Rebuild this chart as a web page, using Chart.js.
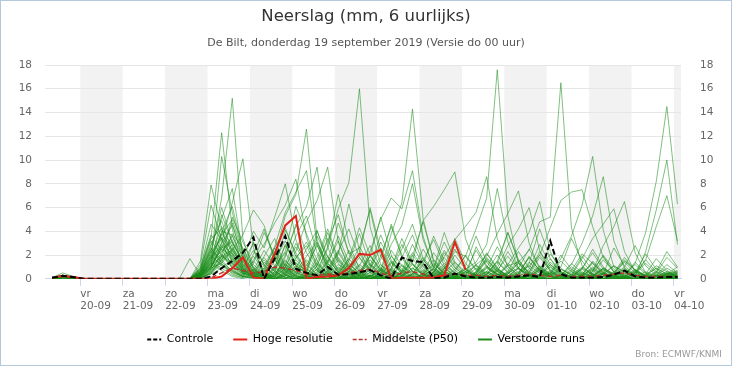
<!DOCTYPE html>
<html lang="nl">
<head>
<meta charset="UTF-8">
<title>Neerslag De Bilt</title>
<style>
  body { margin: 0; background: #fff; }
  #wrap { width: 732px; height: 366px; box-sizing: border-box; border: 1px solid #b4c8dc; }
  canvas { display: block; }
</style>
<script src="https://cdn.jsdelivr.net/npm/chart.js@4.4.0/dist/chart.umd.min.js"></script>
</head>
<body>
<div id="wrap"><canvas id="neerslag" width="730" height="364"></canvas></div>
<script>
// tijden: eerste waarde 19-09 08:00 lokale tijd, daarna elke 6 uur (uren sinds 19-09 00:00)
const eersteUur = 8;
const stapUren = 6;

const dagNamen = ['vr', 'za', 'zo', 'ma', 'di', 'wo', 'do', 'vr', 'za', 'zo', 'ma', 'di', 'wo', 'do', 'vr'];
const dagDatums = ['20-09', '21-09', '22-09', '23-09', '24-09', '25-09', '26-09', '27-09',
                   '28-09', '29-09', '30-09', '01-10', '02-10', '03-10', '04-10'];

const controle = [0.1,0.25,0.15,0,0,0,0,0,0,0,0,0,0,0,0,0.2,0.9,1.5,2.2,3.5,0,1.7,3.6,0.85,0.5,0.3,1.0,0.35,0.4,0.55,0.75,0.3,0,1.8,1.5,1.4,0.05,0.1,0.45,0.2,0.1,0.1,0.15,0.1,0.2,0.3,0.15,3.2,0.4,0.1,0.1,0.1,0.15,0.35,0.7,0.2,0.1,0.1,0.15,0.15];
const hogeResolutie = [0.1,0.25,0.15,0,0,0,0,0,0,0,0,0,0,0,0,0,0.2,0.9,1.8,0.1,0,2.1,4.5,5.3,0,0.15,0.2,0.3,0.9,2.1,2.0,2.45,0,0.1,0.1,0.1,0.1,0.3,3.1,0.8,
  null,null,null,null,null,null,null,null,null,null,null,null,null,null,null,null,null,null,null,null];
const middelste = [0.1,0.2,0.1,0,0,0,0,0,0,0,0,0,0,0,0,0.1,0.5,0.9,0.7,0.5,0.6,1.0,0.9,0.7,0.4,0.3,0.4,0.3,0.5,0.7,0.8,0.5,0.2,0.5,0.6,0.4,0.2,0.3,0.4,0.3,0.3,0.2,0.3,0.2,0.3,0.4,0.3,0.2,0.3,0.2,0.2,0.2,0.3,0.4,0.5,0.3,0.2,0.2,0.2,0.2];

// verstoorde runs (50 leden), elk 60 waarden
const verstoord = [
  [0,0.2,0.1,0,0,0,0,0,0,0,0,0,0,0,0.4,2.1,6.8,15.2,3.4,0.8,0.2,1.5,3.2,1.1,0.3,0,0.4,1.2,0.6,0.2,0,0.5,2.4,1.1,0.3,0,0,0.2,0.8,1.9,0.7,0.1,0,0,0.3,1.4,0.6,0.2,0,0.1,0.9,2.2,0.8,0.3,0,0,0.2,0.6,0.3,0.1],
  [0.1,0.3,0.1,0,0,0,0,0,0,0,0,0,0,0,0.8,3.5,12.3,4.2,1.0,2.4,0.5,0.1,1.8,4.6,2.2,0.7,0.1,0,0.3,1.1,2.8,0.9,0.2,0,0,0.4,1.6,0.7,0.1,0,0,0.3,1.2,3.9,1.4,0.2,0,0,0.1,0.6,0.2,0,0,0.4,1.5,0.8,0.2,0,0,0.1],
  [0,0.1,0,0,0,0,0,0,0,0,0,0,0,0,0.2,1.4,10.3,5.6,2.2,0.9,0,0.6,2.9,1.2,0.4,3.6,1.8,0.5,0,0,0.2,0.8,0.3,0,1.9,4.8,1.6,0.4,0.1,0,0,0,0.2,0.5,0.9,0.3,0,0,0,0.7,2.1,1.3,0.4,0,0,0.1,0.3,0.9,0.4,0.2],
  [0,0.2,0.2,0,0,0,0,0,0,0,0,0,0,0,0,0.9,3.1,6.4,10.1,2.6,0.3,0,0.5,1.7,3.1,1.2,0.4,0,0,0.2,0.5,1.9,4.4,1.8,0.6,0.1,0,0,0.3,0.8,0.2,0,0,0,0.4,1.1,0.5,0.1,0,0,0,0.2,0.7,0.3,0.1,0,0,0.5,1.8,0.9],
  [0.1,0.5,0.2,0,0,0,0,0,0,0,0,0,0,0,1.5,7.9,4.2,1.3,0.6,0.2,0,1.1,2.3,6.1,3.8,1.5,0.3,0,0.2,0.7,0.2,0,0,0.6,2.2,1.0,0.3,0,0,0.1,0.5,1.8,0.8,0.2,0,0,0.3,1.2,0.5,0.1,0,0,0.4,2.6,1.1,0.3,0,0,0.2,0.4],
  [0,0.1,0.1,0,0,0,0,0,0,0,0,0,0,0,0.3,2.8,5.1,7.6,2.0,0.4,1.9,3.4,1.0,0.2,0,0,0.5,2.1,6.3,2.4,0.6,0.1,0,0.3,0.9,0.4,0,0,0,0.2,2.7,1.1,0.3,0,0,0.1,0.6,1.7,0.6,0.2,0,0,0,0.3,0.5,0.2,0,0,0.1,0.3],
  [0,0.3,0.1,0,0,0,0,0,0,0,0,0,0,0,1.2,6.2,3.3,0.8,0.2,1.3,3.9,2.0,0.6,0.1,0,0.2,1.4,3.2,1.0,0.3,0,0,0.4,1.8,3.7,1.3,0.2,0,0,0,0.4,0.2,0,0,0.1,0.8,2.9,1.2,0.3,0,0,0.2,0.5,0.2,0,0,0.3,1.1,0.6,0.2],
  [0,0.2,0,0,0,0,0,0,0,0,0,0,0,0,0.6,2.4,6.0,3.1,1.4,3.0,1.2,0.2,0,0.9,2.5,4.1,1.3,0.2,0,0,0.3,0.1,0,0,0.4,1.5,3.3,1.1,0.2,0,0,0.6,2.0,0.8,0.2,0,0,0.3,1.0,3.4,1.5,0.4,0,0,0.1,0.2,0,0,0.4,0.7],
  [0.1,0.2,0.1,0,0,0,0,0,0,0,0,0,0,1.7,0.3,1.0,2.6,4.7,1.5,0.3,0,0.8,4.1,2.2,0.6,0.1,0,0.2,1.3,0.5,0,0,0.9,2.9,1.2,0.3,0,0,0.2,0.6,0.3,0.1,0,0,0,1.3,4.2,1.7,0.4,0,0,0.1,0.4,0.2,0,0,0,0.6,2.3,1.0],
  [0,0.2,0.1,0,0,0,0,0,0,0,0,0,0,0,0.2,1.7,3.8,2.5,0.9,0.5,0.2,1.8,5.3,7.1,12.6,3.3,0.8,0.1,0,0,0.2,0.9,0.4,0,0,0.3,1.2,0.5,0.1,0,0,0,0.7,1.9,0.8,0.2,0,0,0,0.3,0.9,0.4,0,0,0.2,0.6,0.3,0,0,0.1],
  [0,0.1,0.1,0,0,0,0,0,0,0,0,0,0,0,0.1,0.7,2.2,3.6,1.8,0.6,0.3,0.2,2.0,4.4,6.1,9.4,2.7,0.6,0.1,0,0,0.2,1.4,0.7,0.2,0,0,0.8,2.5,0.9,0.3,0,0.1,0.5,1.6,0.4,0,0,0,0,0.2,0.7,1.9,0.6,0.1,0,0,0,0.3,0.6],
  [0,0.2,0.1,0,0,0,0,0,0,0,0,0,0,0,0.5,1.9,4.4,2.7,0.8,0.2,0,0,0.7,2.3,4.8,6.6,9.4,3.1,0.9,0.2,0,0.3,0.8,0.3,0,0,0.5,2.2,0.9,0.3,0.1,0,0,0.2,0.4,1.8,0.7,0.2,0,0,0,0.4,0.2,0,0.3,1.4,0.5,0.1,0,0],
  [0,0.1,0,0,0,0,0,0,0,0,0,0,0,0,0.7,3.2,2.0,1.1,0.4,1.6,2.9,4.7,6.2,8.4,3.5,1.0,0.2,0,0.1,0.5,1.6,0.6,0.1,0,0,0.2,0.9,3.1,1.2,0.3,0,0,0,0.4,1.3,0.5,0.1,0,0.2,0.8,0.3,0,0,0,0.4,1.2,0.4,0,0,0],
  [0.1,0.3,0.1,0,0,0,0,0,0,0,0,0,0,0,0.3,1.2,5.4,3.0,1.6,4.0,2.6,5.2,8.0,3.3,0.9,0.2,0,0.4,1.5,3.8,1.2,0.3,0,0,0.2,0.7,0.3,0,0,1.1,3.6,1.4,0.4,0.1,0,0,0.2,0.6,0.2,0,0.3,1.5,0.6,0.1,0,0,0.2,0.4,0.1,0],
  [0,0.2,0.1,0,0,0,0,0,0,0,0,0,0,0,0.9,4.6,3.3,1.7,0.5,0.3,1.1,2.7,5.6,7.3,9.1,2.9,0.7,0.1,0,0.2,0.8,2.6,1.0,0.2,0,0,0.3,0.6,0.2,0,0.1,0.9,2.7,1.1,0.3,0,0,0.2,0.8,0.3,0,0,0,0.5,1.6,0.7,0.2,0,0.1,0.2],
  [0,0.1,0.1,0,0,0,0,0,0,0,0,0,0,0,0.2,0.9,2.9,2.1,0.7,0.2,0,0.4,1.6,0.6,0.1,0.8,2.5,5.9,8.1,16.0,4.4,1.2,0.3,0,0,0.2,0.5,0.2,0,0,0.4,1.6,0.7,0.1,0,0,0.3,1.0,0.4,0.1,0,0,0.2,0.6,0.3,0,0,0,0.2,0.4],
  [0,0.2,0,0,0,0,0,0,0,0,0,0,0,0,0.4,1.6,4.0,3.7,1.2,0.5,0.1,0,0.3,1.8,2.8,0.9,0.2,0.5,1.7,4.3,2.0,0.7,3.8,6.4,14.3,5.1,1.4,0.3,0,0,0.2,0.6,0.2,0,0,0.3,1.1,0.4,0,0,0,0.2,0.9,0.4,0.1,0,0,0,0.3,0.5],
  [0.1,0.2,0.1,0,0,0,0,0,0,0,0,0,0,0,0,0.6,1.8,5.2,3.1,1.2,0.4,0,0,0.6,1.9,3.1,1.1,0.3,0,0.4,2.3,5.0,6.8,5.9,9.1,3.6,0.8,0.2,0,0,0.6,2.1,0.9,0.2,0,0,0,0.3,0.8,0.4,0.1,0,0,0,0.2,0.8,0.3,0,0,0],
  [0,0.1,0.1,0,0,0,0,0,0,0,0,0,0,0,0.6,2.3,1.4,0.7,0.3,2.1,4.2,1.6,0.4,0,0,0.3,1.5,4.7,2.2,0.6,0.1,0.7,2.9,4.5,8.0,3.3,1.0,0.2,0,0.3,0.1,0,0,0.4,1.4,0.6,0.1,0,0,0.2,0.8,0.3,0,0,0,0,0.4,1.7,0.7,0.2],
  [0,0.2,0.1,0,0,0,0,0,0,0,0,0,0,0,0.1,1.1,3.5,2.4,1.0,0.4,0,0.3,1.2,0.5,0.2,1.8,4.2,1.7,0.5,0.1,0,0.4,1.3,0.6,1.4,4.9,6.1,7.5,9.0,3.4,1.1,0.3,0,0,0,0.2,0.9,0.4,0.1,0,0,0.6,2.0,0.8,0.2,0,0,0.3,0.1,0],
  [0,0.1,0,0,0,0,0,0,0,0,0,0,0,0,0.4,1.8,2.7,1.5,0.6,0.7,2.4,1.1,0.3,0,0.6,3.0,1.3,0.3,0,0,0.8,3.1,1.4,0.4,0.1,0,0.5,1.9,3.3,4.4,5.6,8.6,3.4,1.0,0.3,0,0.1,0.5,0.2,0,0.4,1.3,0.5,0.1,0,0,0,0.2,0.6,0.3],
  [0,0.3,0.1,0,0,0,0,0,0,0,0,0,0,0,0.2,1.3,3.9,6.1,2.4,0.9,0.2,0,0.2,1.1,0.5,0.1,0.9,2.4,0.9,0.2,0,0,0.4,1.7,0.6,0.1,0,0.8,2.3,1.9,4.2,6.8,17.6,5.3,1.3,0.3,0,0.4,1.5,0.6,0.2,0,0,0.1,0.7,0.3,0,0,0,0.2],
  [0,0.1,0.1,0,0,0,0,0,0,0,0,0,0,0,0.5,2.0,1.1,0.5,0.2,0.1,0.9,2.6,4.3,1.9,0.4,0,0,0.3,1.0,2.1,0.8,0.2,0,0,0.3,1.2,3.6,1.5,0.4,0.8,1.4,2.9,7.6,3.1,0.9,0.2,0,0,0.3,1.0,0.4,0.1,0,0,0.2,0.7,0.3,0,0,0],
  [0.1,0.2,0.1,0,0,0,0,0,0,0,0,0,0,0,0.3,1.5,2.3,3.3,1.1,0.3,0,0.6,2.8,1.3,0.7,4.0,1.9,0.5,0.1,0,0,0.2,0.6,0.3,1.7,0.6,0.1,0,0.2,0.5,1.2,1.9,3.8,5.5,7.4,3.0,0.8,0.2,0,0,0.2,1.0,0.4,0.1,0,0,0,0.3,1.2,0.5],
  [0,0.2,0.1,0,0,0,0,0,0,0,0,0,0,0,0.1,0.4,1.6,2.9,0.9,0.2,1.4,0.6,0.1,0,0,0.5,2.7,7.1,3.0,0.8,0.2,0,0,0.5,1.3,0.5,0,0,0.1,0.4,1.1,0.4,0.9,2.8,4.2,6.0,2.4,0.6,0.1,0,0,0.3,0.8,0.3,0,0.5,1.6,0.6,0.1,0],
  [0,0.1,0.1,0,0,0,0,0,0,0,0,0,0,0,0.8,2.6,1.3,0.4,0.1,1.5,0.6,0.1,0.9,3.0,1.4,0.3,0,0,0.6,2.2,6.0,2.4,0.7,0.1,0,0.3,0.8,0.3,0,0.2,0.9,0.3,0.1,1.2,2.6,3.9,6.5,2.3,0.6,0.1,0,0,0.4,1.1,0.5,0.1,0,0,0,0.1],
  [0,0.2,0.1,0,0,0,0,0,0,0,0,0,0,0,0.2,0.8,2.0,1.4,0.5,0.1,0,0.2,0.9,0.4,0,0.1,0.6,1.8,0.7,0.3,1.9,5.2,2.0,0.5,0.1,0,0,0.5,1.4,0.6,0.2,0,0.3,1.1,1.4,2.4,4.8,5.2,16.5,4.3,1.1,0.3,0,0.2,0.8,0.3,0.1,0,0,0],
  [0,0.1,0,0,0,0,0,0,0,0,0,0,0,0,0.3,1.1,2.5,1.9,0.7,0.3,0,0,0.5,1.6,0.6,0.2,0,0,0.9,2.7,1.1,0.3,0,0,0.4,1.6,0.6,0.1,0,0,0.3,0.9,0.4,0.2,0.6,1.1,2.0,4.3,6.6,7.3,7.5,4.4,1.8,0.6,0.2,0,0,0.2,0.5,0.2],
  [0,0.2,0.1,0,0,0,0,0,0,0,0,0,0,0,0.4,1.4,0.9,0.3,0.1,0.6,1.8,0.7,0.1,0,0.2,1.1,3.4,1.3,0.3,0,0,0.5,1.9,0.8,0.2,0,0,0.4,0.2,0,0.6,2.2,0.9,0.2,0,0.3,1.0,0.4,1.7,3.6,6.2,10.3,4.1,1.0,0.3,0,0,0.1,0.3,0.1],
  [0,0.1,0.1,0,0,0,0,0,0,0,0,0,0,0,0,0.5,1.7,2.2,0.8,0.1,0,0.9,2.2,0.8,0.2,0,0,0.6,2.4,1.0,0.3,0,0,0.2,0.7,2.5,1.0,0.2,0,0,0,0.4,1.5,3.9,1.6,0.4,0,0,0.3,1.2,3.0,5.3,8.6,3.2,0.9,0.2,0,0,0.4,0.6],
  [0,0.2,0.1,0,0,0,0,0,0,0,0,0,0,0,0.6,1.9,1.2,0.6,0.2,0,0.5,1.9,0.7,0.1,0,0,0.4,1.6,0.6,0.3,2.0,0.8,0.2,0,0,0.1,0.6,2.4,1.0,0.2,0,0,0.3,1.3,0.5,0.1,0.8,2.1,0.9,0.3,1.7,3.4,4.6,5.9,2.3,0.6,0.1,0,0.2,0.5],
  [0.1,0.2,0,0,0,0,0,0,0,0,0,0,0,0,0.2,1.0,2.8,1.6,0.4,0.8,0.2,0,0.6,2.0,0.8,0.2,0,0.3,1.2,0.5,0.1,0,0.9,3.4,1.3,0.3,0,0,0,0.6,2.4,1.0,0.2,0,0,0.4,1.8,0.7,0.1,0,0,0.6,2.8,4.4,6.5,2.2,0.5,0,0.1,0.3],
  [0,0.1,0,0,0,0,0,0,0,0,0,0,0,0,0.3,0.8,1.9,1.3,0.5,0.2,0,0.5,1.3,0.5,0.1,0,0.7,2.2,0.8,0.2,0,0,0.3,1.1,0.4,0.1,0,0.6,2.0,0.8,0.2,0,0,0.2,0.9,2.5,1.0,0.2,0,0,0.3,0.8,0.3,0,0.2,1.3,3.9,8.2,14.5,6.3],
  [0,0.2,0.1,0,0,0,0,0,0,0,0,0,0,0,0.5,1.3,0.7,0.2,0,0.4,1.6,0.6,0.1,0,0.3,1.4,3.9,1.5,0.4,0,0,0.2,0.8,0.3,0,0.5,2.2,0.9,0.2,0,0,0.4,1.5,0.6,0.1,0,0.3,1.2,0.5,0.2,0,0,0.4,1.1,0.6,0.2,2.3,5.8,10.0,2.9],
  [0,0.1,0.1,0,0,0,0,0,0,0,0,0,0,0,0.1,0.6,1.4,2.6,1.3,0.5,0.1,0,0.4,1.4,0.5,0.1,1.2,3.6,1.4,0.3,0,0,0.2,0.7,2.9,1.1,0.2,0,0,0.3,1.2,0.5,0.1,0,0,0.2,0.8,0.3,0,0.4,1.9,0.7,0.1,0,0,0.3,1.6,4.4,7.0,3.2],
  [0,0.2,0.1,0,0,0,0,0,0,0,0,0,0,0,0.4,1.1,1.9,2.4,3.7,5.8,4.5,1.6,0.3,0,0.2,0.8,0.3,0,0.1,0.6,1.9,0.7,0.2,0,0,0.4,1.3,0.5,0.1,0,0,0.2,0.7,0.3,0.1,0,0,0.5,2.0,0.8,0.2,0,0,0.2,0.9,0.3,0,0,0.1,0.2],
  [0.1,0.3,0.1,0,0,0,0,0,0,0,0,0,0,0,1.0,3.7,2.4,1.2,0.5,0.2,0.6,2.2,0.8,0.2,0,1.1,3.2,5.4,2.1,2.6,5.8,1.9,0.6,0.1,0,0,0.3,0.9,0.3,0,0.5,1.7,0.6,0.1,0.4,1.9,0.7,0,0,0,0.3,0.1,0,0.4,1.4,0.5,0.1,0,0,0],
  [0,0.1,0,0,0,0,0,0,0,0,0,0,0,0,0.2,0.7,1.5,3.8,2.6,1.0,0.3,0,0.2,0.8,0.3,0,0.7,2.3,4.2,1.8,0.5,0.1,0,0.3,1.2,0.4,0,0.9,3.4,1.3,0.3,0,0,0.2,0.9,0.3,0,0,0,0.2,0.5,0.2,0,0.3,1.0,2.8,1.1,0.3,0,0],
  [0,0.2,0.1,0,0,0,0,0,0,0,0,0,0,0,0.7,2.9,4.9,2.2,0.8,0.2,0,0.3,1.0,2.7,1.2,0.3,0,0.4,1.7,0.6,0,0.2,0.7,2.5,4.6,1.7,0.4,0.1,0,0,0.3,1.1,0.4,0.1,0,0,0.4,1.4,0.6,0.1,0,0.2,0.9,0.3,0,0,0,0.3,0.9,0.4],
  [0,0.1,0.1,0,0,0,0,0,0,0,0,0,0,0,0.1,0.4,0.9,1.7,0.8,0.3,0.9,0.4,0,0,0.3,1.3,0.5,0.1,0.6,1.8,0.7,0.1,0,0,0,0.2,0.9,3.9,1.4,0.4,0,0,0.2,0.6,2.3,0.9,0.2,0,0,0.3,1.0,0.4,0,0,0.1,0.5,2.1,0.8,0.2,0],
  [0,0.2,0.1,0,0,0,0,0,0,0,0,0,0,0,0.5,1.6,3.0,4.5,1.9,0.7,0.2,0,0,0.4,1.6,0.7,0.2,0,0,0.5,1.3,0.5,0.1,0,0,0,0.6,1.8,0.7,0.2,0,0.4,1.4,0.5,0,0.2,0.7,0.3,0,0,0,0.4,1.6,0.6,0.2,0,0,0.3,0.2,0],
  [0.1,0.2,0.1,0,0,0,0,0,0,0,0,0,0,0,0.3,1.4,2.1,0.9,0.3,0.1,0.4,1.7,0.6,0.1,0,0,0.3,1.0,0.4,0.1,0,0.4,1.5,0.6,0.2,0,0,0.2,0.6,2.0,0.8,0.2,0,0,0.1,0.4,0.2,0,0.3,1.3,0.5,0.1,0,0,0.2,0.6,0.2,0,0,0],
  [0,0.1,0.1,0,0,0,0,0,0,0,0,0,0,0,0.6,2.2,3.4,1.8,0.6,3.1,1.1,0.3,1.2,3.6,5.3,2.2,0.6,0.1,0,0,0.3,1.2,0.5,0,0.4,1.8,0.7,0.2,0,0,0.1,0.6,0.2,0,0,0.5,2.3,1.0,0.3,0.1,0,0,0.2,0.5,1.8,0.7,0.2,0,0,0.1],
  [0,0.2,0,0,0,0,0,0,0,0,0,0,0,0,0.4,0.9,1.3,2.4,1.2,0.4,0.1,2.3,1.0,0.2,0.1,0.4,1.6,0.6,0.1,0,0.2,0.7,0.3,0,0,0,0.4,1.3,0.5,0.1,0,0,0.6,2.3,0.9,0.3,0,0,0,0.2,0.8,2.5,1.0,0.3,0,0,0,0.2,0.5,0.3],
  [0,0.1,0.1,0,0,0,0,0,0,0,0,0,0,0,0.2,1.0,2.6,3.1,1.4,0.6,0,0,0.3,1.1,0.5,0.1,0,0,0.4,1.2,0.5,1.6,4.6,2.0,0.6,0.1,0,0,0.2,0.8,0.3,0,0,0,0.5,1.8,0.7,0.2,0,0,0,0.3,0.9,0.4,0.1,0,0,0,0.4,1.0],
  [0,0.2,0.1,0,0,0,0,0,0,0,0,0,0,0,0.9,3.4,4.2,2.0,0.6,1.9,0.7,0.1,0,0.3,1.1,2.8,1.0,0.2,0,0,0.3,0.1,0,0.5,2.0,0.8,0.2,0,0,0.1,0.4,1.5,0.6,0.2,0,0,0.2,0.5,0.2,0,0.4,1.4,0.5,0.1,0,0,0.3,0.9,0.4,0.1],
  [0,0.1,0,0,0,0,0,0,0,0,0,0,0,0,0.3,1.8,3.7,5.0,2.1,0.6,0.2,0.9,0.4,0,0,0.2,0.5,0.2,0,0.3,1.0,3.7,1.6,0.4,0,0,0.2,0.6,0.3,0,0,0.1,0.4,0.2,0,0.6,2.0,0.8,0.2,0,0.2,0.1,0,0,0,0.5,1.3,0.5,0.1,0],
  [0,0.2,0.1,0,0,0,0,0,0,0,0,0,0,0,0.1,0.5,1.2,0.7,0.2,0.1,0,0.2,0.8,0.3,0,0.6,1.9,0.8,0.2,0.1,0,0,0.4,1.2,0.5,0.1,0,0,0.2,0.6,0.2,0,0,0,0,0.3,0.1,0,0,0.2,0.6,0.2,0,0,0.1,0.4,0.2,0,0,0],
  [0,0.1,0.1,0,0,0,0,0,0,0,0,0,0,0,0.4,1.2,1.9,1.0,0.4,0.2,0.7,2.6,1.1,0.3,0,0,0.2,0.9,0.4,0,1.2,0.5,0.1,0,0,0,0.3,1.1,0.5,0.1,0,0.2,0.8,0.3,0,0,0.4,0.2,0,0,0.3,0.9,0.3,0,0,0.2,0.6,0.2,0,0],
  [0,0.2,0.1,0,0,0,0,0,0,0,0,0,0,0,0.6,2.5,1.6,0.6,0.2,0.1,0,0.4,1.5,0.6,0.2,0,0,0.3,0.9,0.4,0.1,0,0,0.2,0.9,0.4,0.1,0,0,0,0.3,1.0,0.4,0.1,0,0,0.2,0.7,0.3,0,0,0.1,0.5,0.2,0,0,0,0.2,0.4,0.2]
];

// controle op lengte van de reeksen
[controle, hogeResolutie, middelste].concat(verstoord).forEach((r, k) => {
  if (r.length !== 60) throw new Error('reeks ' + k + ' heeft ' + r.length + ' waarden');
});

const FONT = "'DejaVu Sans', sans-serif";
Chart.defaults.font.family = FONT;
Chart.defaults.color = '#666';

const punten = reeks => reeks.map((v, i) => ({ x: eersteUur + i * stapUren, y: v }));

const GROEN = 'rgba(25,140,25,0.55)';

const datasets = [
  { label: 'Controle', data: punten(controle), borderColor: '#000', borderWidth: 2, borderDash: [6, 3] },
  { label: 'Hoge resolutie', data: punten(hogeResolutie), borderColor: '#e2231a', borderWidth: 2 },
  { label: 'Middelste (P50)', data: punten(middelste), borderColor: '#b3362c', borderWidth: 1.5, borderDash: [5, 3] }
].concat(verstoord.map(r => ({ label: 'Verstoorde runs', data: punten(r), borderColor: GROEN, borderWidth: 1 })));

const legendaItems = [
  { text: 'Controle', strokeStyle: '#000', fillStyle: '#000', lineWidth: 2, lineDash: [4, 2], pointStyle: 'line', datasetIndex: 0 },
  { text: 'Hoge resolutie', strokeStyle: '#e2231a', fillStyle: '#e2231a', lineWidth: 2, pointStyle: 'line', datasetIndex: 1 },
  { text: 'Middelste (P50)', strokeStyle: '#b3362c', fillStyle: '#b3362c', lineWidth: 1.5, lineDash: [4, 2], pointStyle: 'line', datasetIndex: 2 },
  { text: 'Verstoorde runs', strokeStyle: '#1f8a1f', fillStyle: '#1f8a1f', lineWidth: 2, pointStyle: 'line', datasetIndex: 3 }
];

// grijze banden om de andere dag
const dagBanden = {
  id: 'dagBanden',
  beforeDraw(chart) {
    const { ctx, chartArea, scales: { x } } = chart;
    ctx.save();
    ctx.fillStyle = '#f2f2f2';
    for (let k = 0; k < dagDatums.length; k += 2) {
      const van = 24 * (k + 1), tot = Math.min(van + 24, x.max);
      const a = x.getPixelForValue(van), b = x.getPixelForValue(tot);
      ctx.fillRect(a, chartArea.top, b - a, chartArea.bottom - chartArea.top);
    }
    ctx.restore();
  }
};

const bron = {
  id: 'bron',
  afterDraw(chart) {
    const ctx = chart.ctx;
    ctx.save();
    ctx.font = '9px ' + FONT;
    ctx.fillStyle = '#999';
    ctx.textAlign = 'right';
    ctx.textBaseline = 'middle';
    ctx.fillText('Bron: ECMWF/KNMI', 721, 354);
    ctx.restore();
  }
};

new Chart(document.getElementById('neerslag'), {
  type: 'line',
  data: { datasets },
  plugins: [dagBanden, bron],
  options: {
    responsive: false,
    animation: false,
    layout: { padding: { left: 17, right: 17, top: 0, bottom: 10 } },
    elements: { point: { radius: 0 }, line: { tension: 0, fill: false } },
    plugins: {
      title: {
        display: true, text: 'Neerslag (mm, 6 uurlijks)', color: '#333',
        font: { size: 16.5, weight: 'normal' }, padding: { top: 6, bottom: 10 }
      },
      subtitle: {
        display: true, text: 'De Bilt, donderdag 19 september 2019 (Versie do 00 uur)', color: '#555',
        font: { size: 11 }, padding: { top: 0, bottom: 15 }
      },
      legend: {
        position: 'bottom',
        labels: {
          usePointStyle: true, pointStyleWidth: 14, boxHeight: 11, padding: 20,
          color: '#333', font: { size: 11 },
          generateLabels: () => legendaItems
        },
        onClick: null
      },
      tooltip: { enabled: false }
    },
    scales: {
      x: {
        type: 'linear', min: 4, max: 364,
        afterBuildTicks: axis => { axis.ticks = dagDatums.map((d, k) => ({ value: 24 * (k + 1) })); },
        ticks: {
          align: 'start', padding: 2, maxRotation: 0, autoSkip: false,
          color: '#666', font: { size: 10.5, lineHeight: 1.15 },
          callback: (v, i) => [dagNamen[i], dagDatums[i]]
        },
        grid: { drawOnChartArea: false, drawTicks: true, tickLength: 7, color: '#ccd6eb' },
        border: { display: true, color: '#ccd6eb' }
      },
      y: {
        position: 'left', min: 0, max: 18,
        afterFit: axis => { axis.width = 27; },
        ticks: { stepSize: 2, padding: 13, color: '#666', font: { size: 10.5 } },
        grid: { color: '#e6e6e6', drawTicks: false },
        border: { display: false }
      },
      y2: {
        position: 'right', min: 0, max: 18,
        afterFit: axis => { axis.width = 33; },
        ticks: { stepSize: 2, padding: 19, color: '#666', font: { size: 10.5 } },
        grid: { display: false, drawTicks: false },
        border: { display: false }
      }
    }
  }
});
</script>
</body>
</html>
